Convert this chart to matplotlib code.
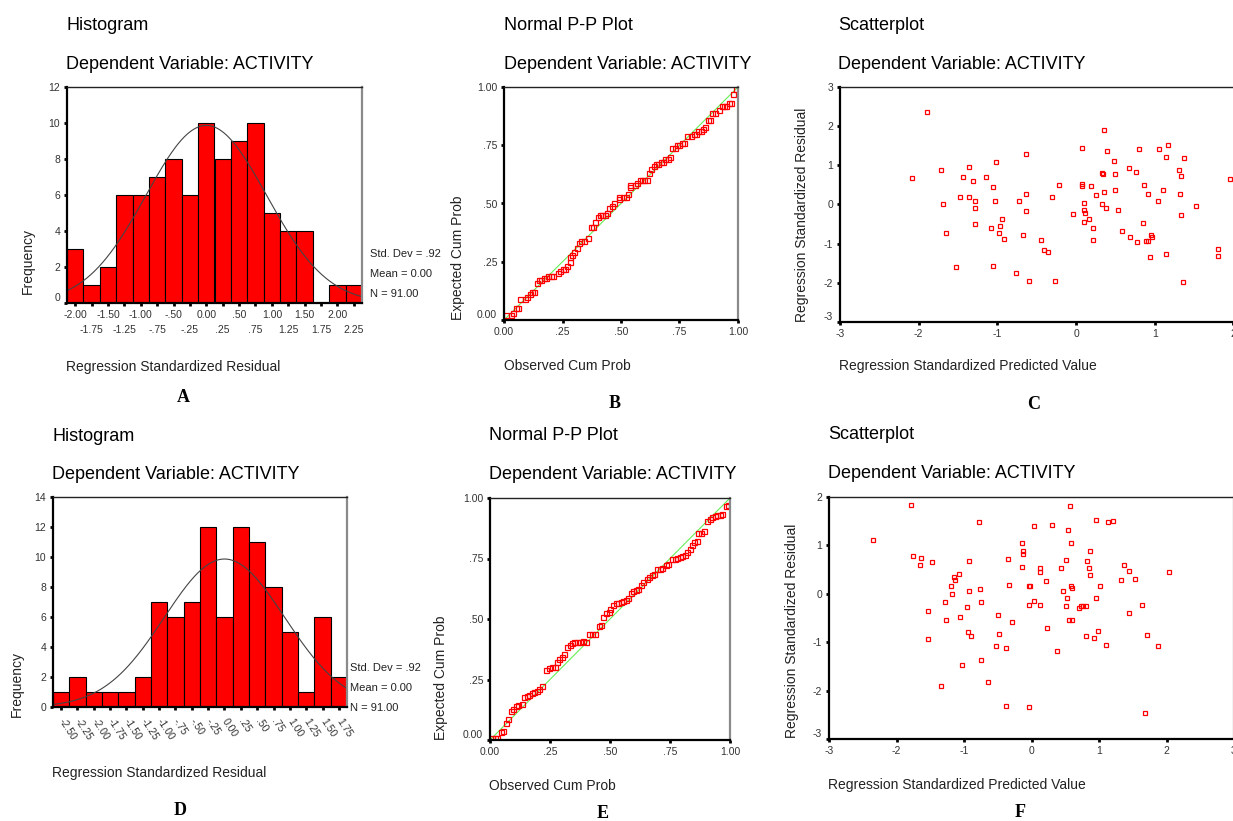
import numpy as np
import matplotlib.pyplot as plt

W, H = 1233, 821
plt.rcParams['font.family'] = ['Liberation Sans', 'DejaVu Sans']
plt.rcParams['axes.unicode_minus'] = False

# ---- histogram A ----
hist_a_centers = [-2.00, -1.75, -1.50, -1.25, -1.00, -0.75, -0.50, -0.25, 0.00,
                  0.25, 0.50, 0.75, 1.00, 1.25, 1.50, 1.75, 2.00, 2.25]
hist_a_counts = [3, 1, 2, 6, 6, 7, 8, 6, 10, 8, 9, 10, 5, 4, 4, 0, 1, 1]
hist_a_labels = ["-2.00", "-1.75", "-1.50", "-1.25", "-1.00", "-.75", "-.50", "-.25", "0.00",
                 ".25", ".50", ".75", "1.00", "1.25", "1.50", "1.75", "2.00", "2.25"]
hist_a_sd, hist_a_mean, hist_a_n = 0.92, 0.00, 91

# ---- histogram D ----
hist_d_centers = [-2.50, -2.25, -2.00, -1.75, -1.50, -1.25, -1.00, -0.75, -0.50,
                  -0.25, 0.00, 0.25, 0.50, 0.75, 1.00, 1.25, 1.50, 1.75]
hist_d_counts = [1, 2, 1, 1, 1, 2, 7, 6, 7, 12, 6, 12, 11, 8, 5, 1, 6, 2]
hist_d_labels = ["-2.50", "-2.25", "-2.00", "-1.75", "-1.50", "-1.25", "-1.00", "-.75", "-.50",
                 "-.25", "0.00", ".25", ".50", ".75", "1.00", "1.25", "1.50", "1.75"]
hist_d_sd, hist_d_mean, hist_d_n = 0.92, 0.00, 91

# ---- P-P plot B ----
pp_b_obs = [0.01, 0.03, 0.04, 0.05, 0.06, 0.07, 0.09, 0.10, 0.11, 0.12, 0.13, 0.14, 0.15, 0.16,
            0.17, 0.18, 0.19, 0.20, 0.21, 0.23, 0.24, 0.25, 0.26, 0.27, 0.28, 0.28, 0.29, 0.30,
            0.31, 0.32, 0.33, 0.34, 0.36, 0.37, 0.38, 0.39, 0.40, 0.41, 0.42, 0.43, 0.44, 0.45,
            0.46, 0.47, 0.49, 0.49, 0.51, 0.52, 0.53, 0.54, 0.54, 0.56, 0.57, 0.58, 0.59, 0.60,
            0.61, 0.62, 0.63, 0.64, 0.65, 0.66, 0.67, 0.68, 0.69, 0.70, 0.71, 0.72, 0.73, 0.74,
            0.75, 0.76, 0.77, 0.78, 0.80, 0.81, 0.82, 0.83, 0.84, 0.85, 0.86, 0.87, 0.88, 0.89,
            0.90, 0.92, 0.93, 0.94, 0.95, 0.96, 0.97, 0.98, 0.99]
pp_b_exp = [0.02, 0.02, 0.03, 0.05, 0.05, 0.09, 0.09, 0.10, 0.11, 0.12, 0.12, 0.16, 0.17, 0.17,
            0.18, 0.18, 0.19, 0.19, 0.19, 0.20, 0.21, 0.22, 0.22, 0.23, 0.25, 0.27, 0.28, 0.29,
            0.31, 0.33, 0.34, 0.34, 0.35, 0.40, 0.40, 0.42, 0.44, 0.45, 0.45, 0.45, 0.46, 0.48,
            0.49, 0.50, 0.52, 0.53, 0.53, 0.53, 0.54, 0.57, 0.58, 0.58, 0.59, 0.60, 0.60, 0.60,
            0.60, 0.63, 0.65, 0.66, 0.67, 0.67, 0.68, 0.68, 0.69, 0.69, 0.70, 0.74, 0.74, 0.75,
            0.75, 0.76, 0.76, 0.79, 0.79, 0.80, 0.80, 0.81, 0.81, 0.82, 0.83, 0.86, 0.86, 0.89,
            0.89, 0.90, 0.92, 0.92, 0.92, 0.93, 0.93, 0.97, 0.99]

# ---- P-P plot E ----
pp_e_obs = [0.01, 0.02, 0.03, 0.045, 0.056, 0.065, 0.076, 0.086, 0.097, 0.108, 0.118, 0.132,
            0.142, 0.153, 0.163, 0.174, 0.183, 0.195, 0.204, 0.218, 0.235, 0.246, 0.26, 0.271,
            0.278, 0.288, 0.299, 0.31, 0.322, 0.333, 0.343, 0.35, 0.361, 0.375, 0.388, 0.399,
            0.413, 0.426, 0.436, 0.454, 0.461, 0.472, 0.482, 0.496, 0.50, 0.514, 0.524, 0.533,
            0.545, 0.554, 0.565, 0.576, 0.586, 0.597, 0.61, 0.618, 0.628, 0.639, 0.653, 0.663,
            0.674, 0.683, 0.697, 0.708, 0.718, 0.732, 0.742, 0.76, 0.769, 0.78, 0.792, 0.80,
            0.811, 0.822, 0.833, 0.843, 0.85, 0.861, 0.867, 0.88, 0.892, 0.905, 0.917, 0.926,
            0.936, 0.947, 0.958, 0.968, 0.982, 0.992]
pp_e_exp = [0.01, 0.01, 0.01, 0.034, 0.037, 0.069, 0.087, 0.121, 0.13, 0.142, 0.146, 0.15,
            0.176, 0.182, 0.186, 0.194, 0.198, 0.202, 0.212, 0.223, 0.288, 0.296, 0.30, 0.303,
            0.321, 0.333, 0.344, 0.354, 0.386, 0.391, 0.40, 0.405, 0.405, 0.406, 0.408, 0.406,
            0.438, 0.438, 0.44, 0.472, 0.477, 0.508, 0.523, 0.53, 0.54, 0.557, 0.567, 0.567,
            0.57, 0.573, 0.577, 0.587, 0.609, 0.614, 0.62, 0.623, 0.639, 0.653, 0.664, 0.674,
            0.68, 0.685, 0.705, 0.708, 0.711, 0.722, 0.729, 0.747, 0.749, 0.752, 0.756, 0.76,
            0.763, 0.777, 0.79, 0.807, 0.818, 0.821, 0.857, 0.857, 0.864, 0.904, 0.915, 0.921,
            0.924, 0.931, 0.931, 0.935, 0.967, 0.97]

# ---- scatter C ----
sc_c_pred = [-2.09, -1.90, -1.72, -1.69, -1.65, -1.53, -1.47, -1.44, -1.36, -1.36, -1.31, -1.29,
             -1.29, -1.29, -1.14, -1.08, -1.06, -1.06, -1.03, -1.02, -0.98, -0.96, -0.94, -0.92,
             -0.76, -0.73, -0.67, -0.63, -0.63, -0.63, -0.60, -0.45, -0.41, -0.35, -0.31, -0.27,
             -0.22, -0.04, 0.08, 0.08, 0.08, 0.10, 0.10, 0.10, 0.11, 0.17, 0.19, 0.21, 0.22,
             0.25, 0.33, 0.34, 0.33, 0.35, 0.36, 0.38, 0.39, 0.48, 0.50, 0.50, 0.54, 0.58, 0.68,
             0.69, 0.76, 0.78, 0.80, 0.85, 0.87, 0.89, 0.92, 0.92, 0.94, 0.95, 0.96, 1.04, 1.05,
             1.10, 1.14, 1.14, 1.17, 1.31, 1.32, 1.33, 1.34, 1.36, 1.37, 1.52, 1.80, 1.81, 1.96]
sc_c_resid = [0.67, 2.36, 0.87, 0.00, -0.74, -1.60, 0.20, 0.69, 0.95, 0.18, 0.61, 0.10,
              -0.10, -0.49, 0.69, -0.59, 0.45, -1.57, 0.08, 1.08, -0.74, -0.55, -0.38, -0.88,
              -1.75, 0.08, -0.79, 1.28, 0.26, -0.16, -1.95, -0.90, -1.16, -1.21, 0.20, -1.95,
              0.49, -0.23, 0.46, 1.43, 0.52, 0.05, -0.13, -0.44, -0.21, -0.38, 0.46, -0.59, -0.90,
              0.23, 0.81, 0.79, 0.00, 1.90, 0.33, -0.10, 1.36, 1.10, 0.79, 0.38, -0.13, -0.67, 0.92,
              -0.84, 0.84, -0.97, 1.41, -0.46, 0.49, -0.93, 0.26, -0.93, -1.34, -0.79, -0.84, 0.08, 1.41,
              0.38, 1.20, -1.26, 1.51, 0.87, 0.28, 0.72, -0.26, -1.98, 1.18, -0.03, -1.13, -1.31, 0.64]

# ---- scatter F ----
sc_f_pred = [-2.35, -1.79, -1.75, -1.64, -1.65, -1.47, -1.53, -1.53, -1.34, -1.28, -1.26, -1.20,
             -1.18, -1.15, -1.13, -1.07, -1.06, -1.03, -0.96, -0.94, -0.92, -0.92, -0.90, -0.78,
             -0.76, -0.75, -0.75, -0.65, -0.53, -0.50, -0.48, -0.38, -0.38, -0.35, -0.34, -0.29,
             -0.14, -0.14, -0.12, -0.12, -0.04, -0.04, -0.02, -0.03, 0.03, 0.04, 0.12, 0.12, 0.13,
             0.22, 0.23, 0.31, 0.38, 0.43, 0.47, 0.51, 0.51, 0.52, 0.54, 0.55, 0.57, 0.59, 0.59,
             0.60, 0.60, 0.70, 0.74, 0.77, 0.80, 0.80, 0.82, 0.85, 0.87, 0.87, 0.93, 0.96, 0.96,
             0.99, 1.02, 1.11, 1.13, 1.20, 1.33, 1.37, 1.44, 1.45, 1.54, 1.63, 1.68, 1.71, 1.87, 2.04]
sc_f_resid = [1.11, 1.84, 0.79, 0.75, 0.60, 0.65, -0.36, -0.94, -1.91, -0.17, -0.54, 0.17,
              0.00, 0.34, 0.28, 0.41, -0.47, -1.48, -0.28, -0.79, 0.67, 0.06, -0.87, 1.48,
              0.09, -0.17, -1.37, -1.82, -1.07, -0.43, -0.83, -1.13, -2.31, 0.71, 0.19, -0.58,
              1.05, 0.56, 0.89, 0.82, -0.23, 0.17, 0.17, -2.33, 1.40, -0.14, 0.54, 0.45, -0.23,
              0.26, -0.70, 1.42, -1.18, 0.54, 0.05, 0.69, -0.25, -0.08, 1.31, -0.54, 1.82, 1.05, 0.17,
              0.13, -0.54, -0.30, -0.25, -0.25, -0.25, -0.87, 0.67, 0.54, 0.89, 0.39, -0.92, 1.52, -0.08,
              -0.77, 0.17, -1.05, 1.48, 1.50, 0.28, 0.60, 0.47, -0.39, 0.30, -0.23, -2.46, -0.85, -1.07, 0.45]

TITLE_FS = 13
LABEL_FS = 10
TICK_FS = 7.5


def box(l, t, r, b):
    return [l / W, 1 - b / H, (r - l) / W, (b - t) / H]


def ftext(x, y, s, **kw):
    fig.text(x / W, 1 - y / H, s, **kw)


def style_axes(ax):
    for side in ['left', 'bottom']:
        ax.spines[side].set_linewidth(1.6)
        ax.spines[side].set_color('black')
    ax.spines['top'].set_linewidth(1.0)
    ax.spines['top'].set_color('#222222')
    ax.spines['right'].set_linewidth(1.6)
    ax.spines['right'].set_color('#8a8a8a')
    ax.tick_params(direction='out', length=2, width=2, color='black',
                   labelsize=TICK_FS, labelcolor='#333333', pad=3)


def lift_bottom_label(ax):
    ax.get_yticklabels()[0].set_va('bottom')


def histogram(ax, centers, counts, labels, sd, mean, n, yticks):
    bw = 0.25
    ax.bar(centers, counts, width=bw, color='#ff0000', edgecolor='black', linewidth=0.8)
    lo, hi = centers[0] - bw / 2, centers[-1] + bw / 2
    xs = np.linspace(lo, hi, 300)
    ys = n * bw / (sd * np.sqrt(2 * np.pi)) * np.exp(-0.5 * ((xs - mean) / sd) ** 2)
    ax.plot(xs, ys, color='#444444', lw=0.8)
    ax.set_xlim(lo, hi)
    ax.set_ylim(0, yticks[-1])
    ax.set_yticks(yticks)
    style_axes(ax)


fig = plt.figure(figsize=(W / 100, H / 100), dpi=100)

# ---------- A ----------
axA = fig.add_axes(box(67, 87, 362, 303))
histogram(axA, hist_a_centers, hist_a_counts, hist_a_labels, hist_a_sd, hist_a_mean,
          hist_a_n, [0, 2, 4, 6, 8, 10, 12])
axA.set_xticks(hist_a_centers[::2])
axA.set_xticklabels(hist_a_labels[::2])
axA.set_xticks(hist_a_centers[1::2], minor=True)
axA.set_xticklabels(hist_a_labels[1::2], minor=True)
axA.tick_params(axis='x', which='minor', direction='out', length=2, width=2,
                labelsize=TICK_FS, labelcolor='#333333', pad=14)
lift_bottom_label(axA)

# ---------- D ----------
axD = fig.add_axes(box(53, 497, 347, 707))
histogram(axD, hist_d_centers, hist_d_counts, hist_d_labels, hist_d_sd, hist_d_mean,
          hist_d_n, [0, 2, 4, 6, 8, 10, 12, 14])
axD.set_xticks(hist_d_centers)
axD.set_xticklabels(hist_d_labels, rotation=-57, ha='left', va='center',
                    rotation_mode='anchor')
axD.tick_params(axis='x', pad=7)

# ---------- P-P plots ----------
pp_ticks = [0, 0.25, 0.5, 0.75, 1.0]
pp_labels = ["0.00", ".25", ".50", ".75", "1.00"]
for rect, obs, exp in [((504, 87, 738, 320), pp_b_obs, pp_b_exp),
                       ((490, 498, 730, 740), pp_e_obs, pp_e_exp)]:
    ax = fig.add_axes(box(*rect))
    ax.plot([0, 1], [0, 1], color='#66ee55', lw=0.8)
    ax.plot(obs, exp, ls='none', marker='s', ms=3.6, mfc='none', mec='#ff0000', mew=0.9)
    ax.set_xlim(0, 1)
    ax.set_ylim(0, 1)
    ax.set_xticks(pp_ticks)
    ax.set_xticklabels(pp_labels)
    ax.set_yticks(pp_ticks)
    ax.set_yticklabels(pp_labels)
    style_axes(ax)
    lift_bottom_label(ax)

# ---------- scatterplots ----------
for rect, pred, resid, yr in [((840, 87, 1312, 322), sc_c_pred, sc_c_resid, (-3, 3)),
                              ((829, 497, 1234, 739), sc_f_pred, sc_f_resid, (-3, 2))]:
    ax = fig.add_axes(box(*rect))
    ax.plot(pred, resid, ls='none', marker='s', ms=3.2, mfc='none', mec='#ff0000', mew=0.9)
    ax.set_xlim(-3, 3)
    ax.set_ylim(*yr)
    ax.set_xticks(range(-3, 4))
    ax.set_yticks(range(yr[0], yr[1] + 1))
    style_axes(ax)
    lift_bottom_label(ax)

# ---------- titles ----------
for x, y1, y2, name in [(66, 30, 69, 'Histogram'), (504, 30, 69, 'Normal P-P Plot'),
                        (838, 30, 69, 'Scatterplot'), (52, 441, 479, 'Histogram'),
                        (489, 440, 479, 'Normal P-P Plot'), (828, 439, 478, 'Scatterplot')]:
    ftext(x, y1, name, fontsize=TITLE_FS, va='baseline', ha='left')
    ftext(x, y2, 'Dependent Variable: ACTIVITY', fontsize=TITLE_FS, va='baseline', ha='left')

# ---------- axis labels ----------
for x, y, s in [(66, 367, 'Regression Standardized Residual'),
                (504, 366, 'Observed Cum Prob'),
                (839, 366, 'Regression Standardized Predicted Value'),
                (52, 773, 'Regression Standardized Residual'),
                (489, 786, 'Observed Cum Prob'),
                (828, 785, 'Regression Standardized Predicted Value')]:
    ftext(x, y, s, fontsize=LABEL_FS, ha='left', va='center', color='#222222')

for x, y, s in [(28, 294, 'Frequency'), (458, 320, 'Expected Cum Prob'),
                (802, 322, 'Regression Standardized Residual'),
                (17, 717, 'Frequency'), (441, 740, 'Expected Cum Prob'),
                (792, 738, 'Regression Standardized Residual')]:
    ftext(x, y, s, fontsize=LABEL_FS, rotation=90, ha='center', va='bottom', color='#222222')

# ---------- histogram statistics ----------
for x, y0, sd, mean, n in [(370, 254, hist_a_sd, hist_a_mean, hist_a_n),
                           (350, 668, hist_d_sd, hist_d_mean, hist_d_n)]:
    ftext(x, y0, f"Std. Dev = {sd:.2f}".replace("0.", "."), fontsize=8, va='center', color='#222222')
    ftext(x, y0 + 20, f"Mean = {mean:.2f}", fontsize=8, va='center', color='#222222')
    ftext(x, y0 + 40, f"N = {n:.2f}", fontsize=8, va='center', color='#222222')

# ---------- panel letters ----------
for x, y, s in [(183, 397, 'A'), (615, 403, 'B'), (1034, 404, 'C'),
                (180, 810, 'D'), (603, 813, 'E'), (1020, 812, 'F')]:
    ftext(x, y, s, fontsize=13, fontweight='bold', family=['Liberation Serif', 'DejaVu Serif'],
          ha='center', va='center')

fig.savefig('out.png', dpi=100)
